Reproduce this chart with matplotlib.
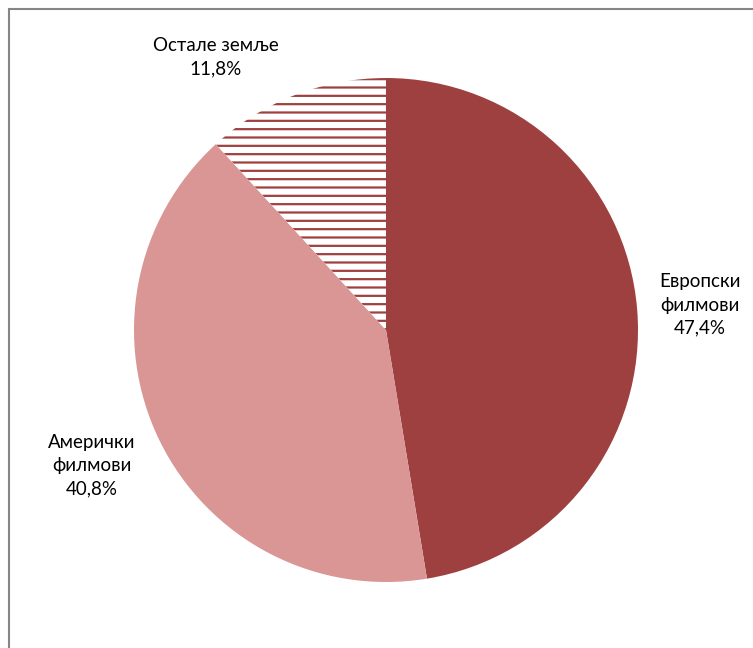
import matplotlib
matplotlib.use("Agg")
import matplotlib.pyplot as plt
from matplotlib.patches import Rectangle

# data
labels = ["Европски\nфилмови", "Амерички\nфилмови", "Остале земље"]
values = [47.4, 40.8, 11.8]
colors = ["#9E403F", "#D99694", "white"]

plt.rcParams["font.family"] = ["Lato", "DejaVu Sans"]
plt.rcParams["hatch.linewidth"] = 1.6

W, H = 753, 648
fig = plt.figure(figsize=(W / 100, H / 100), dpi=100)

# outer frame (right / bottom edges fall outside the picture)
fig.patches.append(Rectangle((8.5 / W, -0.1), 1, 1.1 - 9 / H, transform=fig.transFigure,
                             fill=False, edgecolor="#868686", linewidth=1.5))

cx, cy, r = 386, 330, 252
ax = fig.add_axes([(cx - r) / W, (H - cy - r) / H, 2 * r / W, 2 * r / H])
wedges, _ = ax.pie(values, colors=colors, startangle=90, counterclock=False,
                   radius=1, wedgeprops=dict(linewidth=0))
wedges[2].set_hatch("--")
wedges[2].set_edgecolor("#9E403F")
wedges[2].set_linewidth(0)
ax.set_xlim(-1, 1)
ax.set_ylim(-1, 1)
ax.set_aspect("equal")
ax.axis("off")

# label positions in pixels
pos = [(700, 305), (92, 466), (216, 57)]
for lab, v, (px, py) in zip(labels, values, pos):
    txt = lab + "\n" + f"{v:.1f}".replace(".", ",") + "%"
    fig.text(px / W, 1 - py / H, txt, ha="center", va="center",
             fontsize=13.5, color="#000000", linespacing=1.45)

fig.savefig("out.png", dpi=100)
